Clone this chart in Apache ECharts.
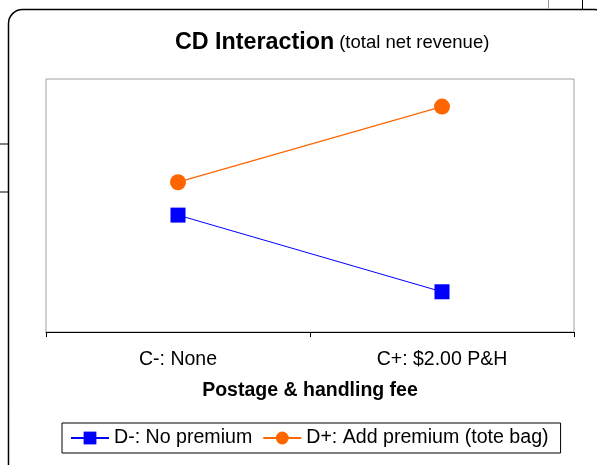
<!DOCTYPE html>
<html>
<head>
<meta charset="utf-8">
<script src="https://cdn.jsdelivr.net/npm/echarts@6/dist/echarts.min.js"></script>
<style>
  html, body { margin: 0; padding: 0; background: #fff; }
  #chart { width: 597px; height: 465px; }
</style>
</head>
<body>
<div id="chart"></div>
<script>
// categories on the x axis (postage & handling fee)
var categories = ['C-: None', 'C+: $2.00 P&H'];
// total net revenue, y axis has no labels so values are on a 0-100 scale
var noPremium = [46.2, 15.9];
var addPremium = [59.2, 89.1];
var seriesNames = ['D-: No premium', 'D+: Add premium (tote bag)'];

var font = 'Liberation Sans, Arial, sans-serif';
var myChart = echarts.init(document.getElementById('chart'));

myChart.setOption({
  backgroundColor: '#fff',
  animation: false,
  title: {
    left: 170,
    top: 26,
    text: '{b|CD Interaction} {n|(total net revenue)}',
    textStyle: {
      rich: {
        b: { fontFamily: font, fontSize: 23.3, fontWeight: 'bold', color: '#000' },
        n: { fontFamily: font, fontSize: 18.5, fontWeight: 'normal', color: '#000' }
      }
    }
  },
  grid: {
    left: 46,
    top: 79,
    width: 528,
    height: 253,
    show: true,
    borderColor: '#a0a0a0',
    borderWidth: 1
  },
  legend: {
    left: 62,
    top: 423,
    padding: [5, 12, 5, 8],
    itemGap: 10,
    itemWidth: 38,
    itemHeight: 16,
    borderColor: '#000',
    borderWidth: 1,
    textStyle: { fontFamily: font, fontSize: 19.6, color: '#000' },
    data: seriesNames
  },
  xAxis: {
    type: 'category',
    data: categories,
    name: 'Postage & handling fee',
    nameLocation: 'middle',
    nameGap: 49,
    nameTextStyle: { fontFamily: font, fontSize: 19.5, fontWeight: 'bold', color: '#000' },
    axisLine: { lineStyle: { color: '#000', width: 1 } },
    axisTick: { show: true, length: 5, lineStyle: { color: '#000' } },
    axisLabel: { fontFamily: font, fontSize: 19.5, color: '#000', margin: 18 },
    splitLine: { show: false }
  },
  yAxis: {
    type: 'value',
    min: 0,
    max: 100,
    show: false
  },
  series: [
    {
      name: seriesNames[0],
      type: 'line',
      data: noPremium,
      symbol: 'rect',
      symbolSize: 15,
      color: '#0000ff',
      lineStyle: { color: '#0000ff', width: 1 },
      itemStyle: { color: '#0000ff' }
    },
    {
      name: seriesNames[1],
      type: 'line',
      data: addPremium,
      symbol: 'circle',
      symbolSize: 16,
      color: '#ff6600',
      lineStyle: { color: '#ff6600', width: 1.25 },
      itemStyle: { color: '#ff6600' }
    }
  ],
  graphic: [
    // outer chart-area frame, cut off at right and bottom
    { type: 'rect', shape: { x: 8.5, y: 9.5, width: 600, height: 470, r: 14 },
      style: { fill: null, stroke: '#000', lineWidth: 1.5 }, silent: true },
    // stray lines from neighbouring objects
    { type: 'line', shape: { x1: 0, y1: 144, x2: 8, y2: 144 }, style: { stroke: '#000', lineWidth: 1 } },
    { type: 'line', shape: { x1: 0, y1: 192, x2: 8, y2: 192 }, style: { stroke: '#000', lineWidth: 1 } },
    { type: 'line', shape: { x1: 548.5, y1: 0, x2: 548.5, y2: 9 }, style: { stroke: '#999', lineWidth: 1 } },
    { type: 'line', shape: { x1: 582.5, y1: 0, x2: 582.5, y2: 9 }, style: { stroke: '#000', lineWidth: 1 } }
  ]
});
window.addEventListener('resize', function () {
  myChart.resize();
});
</script>
</body>
</html>
